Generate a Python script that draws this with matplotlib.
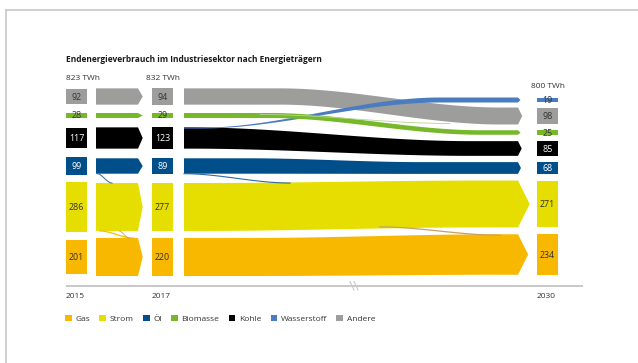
import numpy as np
import matplotlib
matplotlib.use('Agg')
import matplotlib.pyplot as plt
from matplotlib.patches import Rectangle, Patch

plt.rcParams['font.family'] = ['Open Sans', 'DejaVu Sans']

# data (TWh)
categories = ['Andere', 'Biomasse', 'Kohle', 'Wasserstoff', 'Öl', 'Strom', 'Gas']
years = ['2015', '2017', '2030']
val_2015 = [92, 28, 117, 0, 99, 286, 201]
val_2017 = [94, 29, 123, 0, 89, 277, 220]
val_2030 = [98, 25, 85, 19, 68, 271, 234]
totals = ['823 TWh', '832 TWh', '800 TWh']
legend_order = ['Gas', 'Strom', 'Öl', 'Biomasse', 'Kohle', 'Wasserstoff', 'Andere']
title = 'Endenergieverbrauch im Industriesektor nach Energieträgern'

colors = {'Gas': '#f9b800', 'Strom': '#e6de00', 'Öl': '#004f8b', 'Biomasse': '#76b82a',
          'Kohle': '#000000', 'Wasserstoff': '#4a7cc0', 'Andere': '#9d9d9c'}
white_text = {'Kohle', 'Öl'}

# layout (pixel coordinates)
PX = 0.173           # px per TWh
MIN_H = 5.0
row_early = {'Andere': 96.5, 'Biomasse': 115.5, 'Kohle': 138, 'Wasserstoff': 127.5,
             'Öl': 166, 'Strom': 207, 'Gas': 257}
row_2030 = {'Andere': 116, 'Biomasse': 132.5, 'Kohle': 148.5, 'Wasserstoff': 100,
            'Öl': 168, 'Strom': 204, 'Gas': 254.5}
col_x = [66, 152, 537]
BOX_W = 21
ARR1 = (96, 138)     # 2015 -> 2017 arrow body
FLOW = (184, 518)    # 2017 -> 2030 flow body
TEXT = '#333333'
FS = 6.0


def height(v):
    return max(v * PX, MIN_H) if v > 0 else 0


def smooth(xs, x0, x1):
    t = np.clip((xs - x0) / (x1 - x0), 0, 1)
    return t * t * (3 - 2 * t)


fig = plt.figure(figsize=(6.38, 3.63), dpi=100)
ax = fig.add_axes([0, 0, 1, 1])
ax.set_xlim(0, 638)
ax.set_ylim(363, 0)
ax.axis('off')

# frame
ax.plot([6, 638], [10, 10], color='#c8c8c8', lw=1.2)
ax.plot([6, 6], [10, 363], color='#c8c8c8', lw=1.2)

ax.text(66, 59, title, fontsize=FS, fontweight='bold', color='#1a1a1a', va='center')
ax.text(66, 79, totals[0], fontsize=FS, color=TEXT, va='center')
ax.text(col_x[1] + BOX_W / 2, 79, totals[1], fontsize=FS, color=TEXT, va='center', ha='center')
ax.text(col_x[2] + BOX_W / 2, 87, totals[2], fontsize=FS, color=TEXT, va='center', ha='center')

# boxes
for vals, x, rows in [(val_2015, col_x[0], row_early), (val_2017, col_x[1], row_early),
                      (val_2030, col_x[2], row_2030)]:
    for cat, v in zip(categories, vals):
        if v == 0:
            continue
        h = v * PX if cat != 'Biomasse' else height(v)
        c = rows[cat]
        ax.add_patch(Rectangle((x, c - h / 2), BOX_W, h, color=colors[cat], lw=0))
        ax.text(x + BOX_W / 2, c + 0.5, str(v), fontsize=6.4, ha='center', va='center',
                color='white' if cat in white_text else TEXT)

# arrows 2015 -> 2017 (height of 2017 value)
for cat, v in zip(categories, val_2017):
    if v == 0:
        continue
    h = height(v)
    c = row_early[cat]
    x0, x1 = ARR1
    ax.fill([x0, x1, x1 + 4.7, x1, x0], [c - h / 2, c - h / 2, c, c + h / 2, c + h / 2],
            color=colors[cat], lw=0)

# transfer lines 2015 -> 2017
xs = np.linspace(97, 112, 50)
y0 = row_early['Öl'] + val_2017[4] * PX / 2
y1 = row_early['Strom'] - val_2017[5] * PX / 2
ax.plot(xs, y0 + (y1 - y0) * smooth(xs, 97, 112), color='#2e6a9e', lw=0.7)
xs = np.linspace(100, 133, 50)
y0 = row_early['Strom'] + val_2017[5] * PX / 2
y1 = row_early['Gas'] - val_2017[6] * PX / 2
ax.plot(xs, y0 + (y1 - y0) * smooth(xs, 100, 133), color='#f0c000', lw=0.9)
xs = np.linspace(119, 129, 50)
ax.plot(xs, y0 + (y1 - y0) * smooth(xs, 119, 129), color='#c8a060', lw=0.6)

# flows 2017 -> 2030
spans = {'Andere': (280, 500), 'Biomasse': (270, 480), 'Kohle': (190, 470),
         'Wasserstoff': (200, 440), 'Öl': (250, 420), 'Strom': (200, 480), 'Gas': (250, 500)}
draw_order = ['Andere', 'Kohle', 'Wasserstoff', 'Biomasse', 'Öl', 'Strom', 'Gas']
for cat in draw_order:
    i = categories.index(cat)
    h0 = height(val_2017[i]) if val_2017[i] > 0 else 0.8
    h1 = height(val_2030[i]) if cat != 'Biomasse' else 4.5
    if cat == 'Wasserstoff':
        c0 = row_early['Kohle'] - height(val_2017[2]) / 2 + 0.8
    else:
        c0 = row_early[cat]
    c1 = row_2030[cat]
    xs = np.linspace(FLOW[0], FLOW[1], 300)
    s = smooth(xs, *spans[cat])
    top = (c0 - h0 / 2) + ((c1 - h1 / 2) - (c0 - h0 / 2)) * s
    bot = (c0 + h0 / 2) + ((c1 + h1 / 2) - (c0 + h0 / 2)) * s
    tip = max(h1 * 0.25, 2.5)
    px = np.concatenate([xs, [FLOW[1] + tip], xs[::-1]])
    py = np.concatenate([top, [c1], bot[::-1]])
    ax.fill(px, py, color=colors[cat], lw=0)

# transfer lines 2017 -> 2030
xs = np.linspace(FLOW[0], 290, 80)
y0 = row_early['Öl'] + val_2017[4] * PX / 2
y1 = row_early['Strom'] - val_2017[5] * PX / 2
ax.plot(xs, y0 + (y1 - y0) * smooth(xs, FLOW[0], 290), color='#2e6a9e', lw=0.8)
xs = np.linspace(380, 500, 80)
y0 = row_2030['Strom'] + val_2030[5] * PX / 2 - 0.5
y1 = row_2030['Gas'] - val_2030[6] * PX / 2 + 1
ax.plot(xs, y0 + (y1 - y0) * smooth(xs, 380, 500), color='#c8a060', lw=0.9)
xs = np.linspace(260, 450, 80)
y0 = row_early['Biomasse'] - 1
y1 = row_2030['Andere'] + val_2030[0] * PX / 2 - 1
ax.plot(xs, y0 + (y1 - y0) * smooth(xs, 260, 450), color='#b5d68e', lw=0.6)

# time axis
ax.plot([66, 583], [286, 286], color='#c8c8c8', lw=1.4, solid_capstyle='butt')
ax.add_patch(Rectangle((350, 282), 8, 8, color='white', lw=0))
ax.plot([350, 354], [281.5, 290], color='#c8c8c8', lw=0.8)
ax.plot([354, 358], [281.5, 290], color='#c8c8c8', lw=0.8)
for yr, x in zip(years, col_x):
    ax.text(x, 297, yr, fontsize=FS, color=TEXT, va='center')

# legend
handles = [Patch(color=colors[c], lw=0) for c in legend_order]
ax.legend(handles, legend_order, loc='upper left', bbox_to_anchor=(65 / 638, 1 - 315 / 363),
          ncol=7, frameon=False, fontsize=FS, handlelength=0.8, handleheight=0.8,
          handletextpad=0.45, columnspacing=1.1, borderpad=0, borderaxespad=0,
          labelcolor=TEXT)

fig.savefig('out.png', dpi=100, facecolor='white')
